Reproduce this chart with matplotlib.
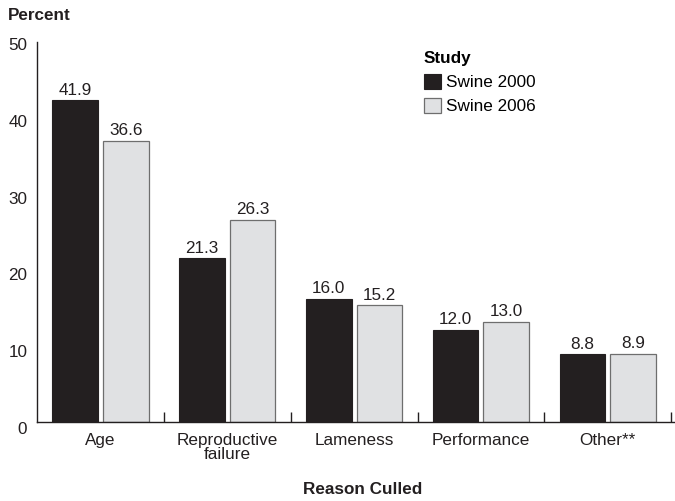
import matplotlib
matplotlib.use("Agg")
import matplotlib.pyplot as plt
import matplotlib.transforms as mtransforms
import numpy as np

categories = ["Age", "Reproductive\nfailure", "Lameness", "Performance", "Other**"]
swine_2000 = [41.9, 21.3, 16.0, 12.0, 8.8]
swine_2006 = [36.6, 26.3, 15.2, 13.0, 8.9]
series_names = ["Swine 2000", "Swine 2006"]
yticks = [0, 10, 20, 30, 40, 50]

plt.rcParams['font.family'] = ['Liberation Sans', 'DejaVu Sans']
FS = 12.3
INK = "#231f20"

fig = plt.figure(figsize=(6.75, 5.01), dpi=100)
ax = fig.add_axes([37/675, 79/501, 1 - 37/675, (422-38)/501])

x = np.arange(len(categories))
w = 0.36
b1 = ax.bar(x - 0.2, swine_2000, width=w, color=INK, edgecolor=INK, linewidth=0.8, label=series_names[0])
b2 = ax.bar(x + 0.2, swine_2006, width=w, color="#e0e1e3", edgecolor="#6e6e6e", linewidth=0.9, label=series_names[1])

for bars, vals in ((b1, swine_2000), (b2, swine_2006)):
    for r, v in zip(bars, vals):
        ax.text(r.get_x() + r.get_width()/2, v + 0.35, f"{v:.1f}", ha="center", va="bottom", fontsize=FS, color=INK)

ax.set_xlim(-0.5, 4.53)
ax.set_ylim(0, 50)
ax.set_yticks(yticks)
ax.set_yticklabels([str(t) for t in yticks], fontsize=FS, color=INK)
ax.tick_params(axis="y", length=0, pad=7)
shift = mtransforms.ScaledTranslation(0, -6/100, fig.dpi_scale_trans)
for lab in ax.get_yticklabels():
    lab.set_transform(lab.get_transform() + shift)

ax.set_xticks(x)
ax.set_xticklabels(categories, fontsize=FS, color=INK, linespacing=0.92)
ax.tick_params(axis="x", which="major", length=0, pad=8)
ax.set_xticks(x + 0.5, minor=True)
ax.tick_params(axis="x", which="minor", direction="in", length=7, width=1, color=INK)

for s in ("top", "right"):
    ax.spines[s].set_visible(False)
for s in ("left", "bottom"):
    ax.spines[s].set_color(INK)
    ax.spines[s].set_linewidth(1.0)
ax.spines["left"].set_bounds(0, 49.5)

fig.text(8/675, 1 - 15/501, "Percent", fontsize=FS, fontweight="bold", ha="left", va="center", color=INK)
fig.text(363/675, 1 - 490/501, "Reason Culled", fontsize=FS, fontweight="bold", ha="center", va="center", color=INK)

leg = ax.legend(loc="upper left", bbox_to_anchor=(424/675, 1 - 51/501), bbox_transform=fig.transFigure,
                frameon=False, fontsize=FS, title="Study", alignment="left",
                title_fontproperties={"weight": "bold", "size": FS},
                handlelength=1.0, handleheight=1.0, handletextpad=0.3, labelspacing=0.45, borderpad=0,
                borderaxespad=0)

fig.savefig("out.png", dpi=100)
